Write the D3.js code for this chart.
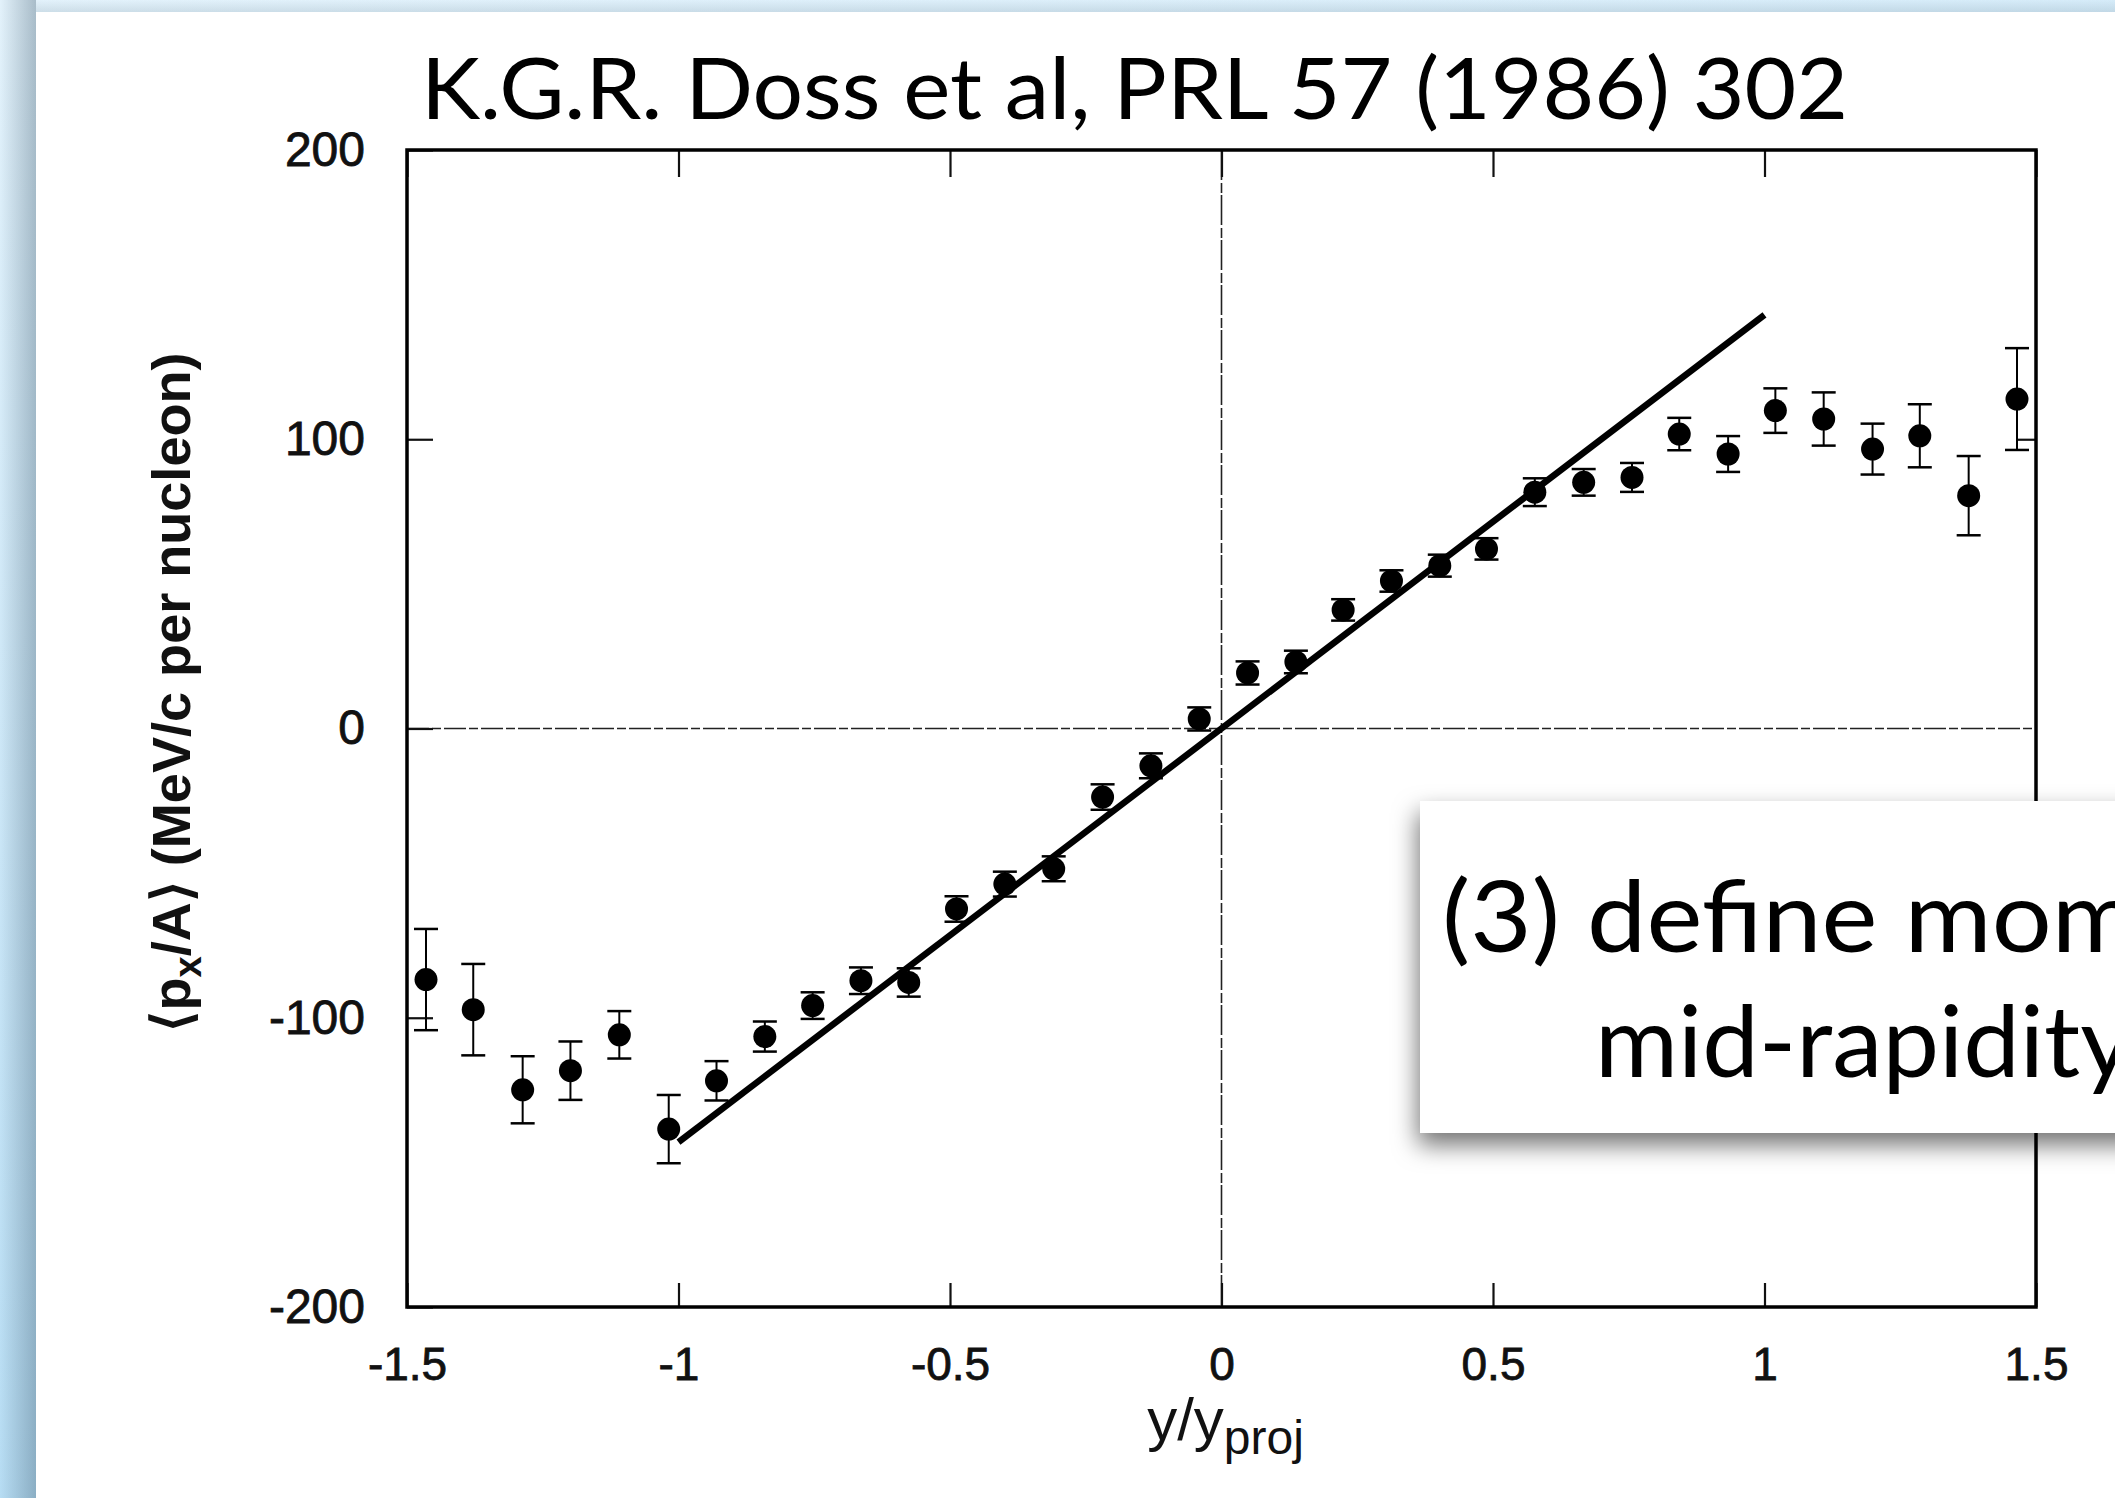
<!DOCTYPE html>
<html>
<head>
<meta charset="utf-8">
<script src="https://cdn.jsdelivr.net/npm/d3@7"></script>
<style>
  html, body { margin: 0; padding: 0; overflow: hidden; background: #fff; }
</style>
</head>
<body>
<script>
// ---------------- data ----------------
const rapidity = [-1.465, -1.378, -1.287, -1.199, -1.109, -1.018, -0.930, -0.841, -0.753, -0.664,
                  -0.576, -0.488, -0.399, -0.309, -0.219, -0.130, -0.041, 0.048, 0.137, 0.224,
                  0.313, 0.402, 0.488, 0.577, 0.667, 0.756, 0.843, 0.933, 1.020, 1.109,
                  1.199, 1.286, 1.376, 1.465];
const pxPerA = [-86.8, -97.2, -124.9, -118.3, -105.9, -138.5, -121.8, -106.5, -95.8, -87.2,
                -87.8, -62.4, -53.8, -48.5, -23.7, -12.9, 3.3, 19.2, 23.0, 41.0,
                51.0, 56.3, 62.1, 81.7, 85.1, 86.8, 101.8, 94.9, 109.9, 107.0,
                96.6, 101.2, 80.5, 113.9];
const pxErr = [17.5, 15.8, 11.6, 10.1, 8.2, 11.8, 6.8, 5.2, 4.6, 4.6,
               4.9, 4.4, 4.3, 4.3, 4.4, 4.3, 4.0, 4.0, 3.9, 3.7,
               3.7, 3.8, 3.7, 4.8, 4.6, 5.0, 5.6, 6.2, 7.7, 9.2,
               8.8, 10.9, 13.7, 17.6];
const fitX = [-1.0, 1.0];
const fitY = [-143, 143];
const xTicks = [-1.5, -1, -0.5, 0, 0.5, 1, 1.5];
const xTickLabels = ["-1.5", "-1", "-0.5", "0", "0.5", "1", "1.5"];
const yTicks = [-200, -100, 0, 100, 200];
const yTickLabels = ["-200", "-100", "0", "100", "200"];
const titleText = "K.G.R. Doss et al, PRL 57 (1986) 302";
const boxLines = ["(3) define momentum at", "mid-rapidity"];

// ---------------- layout ----------------
const W = 2115, H = 1498;
const L = 407, R = 2036, T = 150, B = 1307;

const svg = d3.select("body").append("svg").attr("width", W).attr("height", H);
const defs = svg.append("defs");

const bg = defs.append("linearGradient").attr("id", "bgGrad").attr("x1", 0).attr("y1", 0).attr("x2", 0.3).attr("y2", 1);
bg.append("stop").attr("offset", "0%").attr("stop-color", "#e3f2fb");
bg.append("stop").attr("offset", "100%").attr("stop-color", "#b3dbf3");

const ls = defs.append("linearGradient").attr("id", "leftShadow").attr("x1", 0).attr("y1", 0).attr("x2", 1).attr("y2", 0);
ls.append("stop").attr("offset", "0%").attr("stop-color", "#2d4a5e").attr("stop-opacity", 0);
ls.append("stop").attr("offset", "100%").attr("stop-color", "#2d4a5e").attr("stop-opacity", 0.32);

const ts = defs.append("linearGradient").attr("id", "topShadow").attr("x1", 0).attr("y1", 0).attr("x2", 0).attr("y2", 1);
ts.append("stop").attr("offset", "0%").attr("stop-color", "#2d4a5e").attr("stop-opacity", 0);
ts.append("stop").attr("offset", "100%").attr("stop-color", "#2d4a5e").attr("stop-opacity", 0.12);

const f = defs.append("filter").attr("id", "boxShadow").attr("x", "-10%").attr("y", "-20%").attr("width", "130%").attr("height", "160%");
f.append("feDropShadow").attr("dx", -2).attr("dy", 12).attr("stdDeviation", 12)
  .attr("flood-color", "#000").attr("flood-opacity", 0.55);

// background slide
svg.append("rect").attr("width", W).attr("height", H).attr("fill", "url(#bgGrad)");
svg.append("rect").attr("x", 0).attr("y", 0).attr("width", 36).attr("height", H).attr("fill", "url(#leftShadow)");
svg.append("rect").attr("x", 36).attr("y", 0).attr("width", W - 36).attr("height", 12).attr("fill", "url(#topShadow)");
svg.append("rect").attr("x", 36).attr("y", 12).attr("width", W - 36).attr("height", H - 12).attr("fill", "#ffffff");

// scales
const x = d3.scaleLinear().domain([-1.5, 1.5]).range([L, R]);
const y = d3.scaleLinear().domain([-200, 200]).range([B, T]);

const tickFont = "'Liberation Sans', Arial, Helvetica, sans-serif";

// zero lines
svg.append("line").attr("x1", L).attr("x2", R).attr("y1", y(0)).attr("y2", y(0))
  .attr("stroke", "#222").attr("stroke-width", 1.6).attr("stroke-dasharray", "22 3 9 3");
svg.append("line").attr("x1", x(0)).attr("x2", x(0)).attr("y1", T).attr("y2", B)
  .attr("stroke", "#222").attr("stroke-width", 1.6).attr("stroke-dasharray", "30 3 10 2");

// axes
function styleAxis(g, size) {
  g.select(".domain").remove();
  g.attr("font-family", tickFont).attr("font-size", size);
  g.selectAll(".tick line").attr("stroke", "#111").attr("stroke-width", 2.2);
  g.selectAll(".tick text").attr("fill", "#111").attr("stroke", "#111").attr("stroke-width", 0.8);
}
const gB = svg.append("g").attr("transform", `translate(0,${B})`)
  .call(d3.axisBottom(x).tickValues(xTicks).tickFormat((d, i) => xTickLabels[i])
    .tickSizeInner(-24).tickSizeOuter(0).tickPadding(40));
styleAxis(gB, 46);
const gT = svg.append("g").attr("transform", `translate(0,${T})`)
  .call(d3.axisTop(x).tickValues(xTicks).tickFormat("").tickSizeInner(-27).tickSizeOuter(0));
styleAxis(gT, 42);
const gL = svg.append("g").attr("transform", `translate(${L},0)`)
  .call(d3.axisLeft(y).tickValues(yTicks).tickFormat((d, i) => yTickLabels[i])
    .tickSizeInner(-26).tickSizeOuter(0).tickPadding(42));
styleAxis(gL, 48);
const gR = svg.append("g").attr("transform", `translate(${R},0)`)
  .call(d3.axisRight(y).tickValues([100, -100]).tickFormat("").tickSizeInner(-18).tickSizeOuter(0));
styleAxis(gR, 42);

// frame
svg.append("rect").attr("x", L).attr("y", T).attr("width", R - L).attr("height", B - T)
  .attr("fill", "none").attr("stroke", "#000").attr("stroke-width", 3.5);

// fit line
const fitPts = fitX.map((v, i) => [v, fitY[i]]);
svg.append("path").datum(fitPts)
  .attr("d", d3.line().x(d => x(d[0])).y(d => y(d[1])))
  .attr("stroke", "#000").attr("stroke-width", 6.5).attr("fill", "none");

// data
const pts = rapidity.map((v, i) => ({ x: v, y: pxPerA[i], e: pxErr[i] }));
const gp = svg.append("g");
const capW = 12;
gp.selectAll(".eb").data(pts).join("line")
  .attr("x1", d => x(d.x)).attr("x2", d => x(d.x))
  .attr("y1", d => y(d.y - d.e)).attr("y2", d => y(d.y + d.e))
  .attr("stroke", "#000").attr("stroke-width", 2);
gp.selectAll(".capT").data(pts).join("line")
  .attr("x1", d => x(d.x) - capW).attr("x2", d => x(d.x) + capW)
  .attr("y1", d => y(d.y + d.e)).attr("y2", d => y(d.y + d.e))
  .attr("stroke", "#000").attr("stroke-width", 2.5);
gp.selectAll(".capB").data(pts).join("line")
  .attr("x1", d => x(d.x) - capW).attr("x2", d => x(d.x) + capW)
  .attr("y1", d => y(d.y - d.e)).attr("y2", d => y(d.y - d.e))
  .attr("stroke", "#000").attr("stroke-width", 2.5);
gp.selectAll("circle").data(pts).join("circle")
  .attr("cx", d => x(d.x)).attr("cy", d => y(d.y)).attr("r", 11.5).attr("fill", "#000");

// axis titles
const yt = svg.append("text")
  .attr("transform", `translate(190,692) rotate(-90)`)
  .attr("text-anchor", "middle").attr("font-family", tickFont).attr("font-weight", "bold")
  .attr("font-size", 54).attr("fill", "#111")
  .attr("textLength", 679).attr("lengthAdjust", "spacingAndGlyphs");
yt.append("tspan").text("\u27E8p");
yt.append("tspan").attr("font-size", 38).attr("dy", 11).text("x");
yt.append("tspan").attr("dy", -11).text("/A\u27E9 (MeV/c per nucleon)");

const xt = svg.append("text")
  .attr("x", x(0) + 4).attr("y", 1440).attr("text-anchor", "middle")
  .attr("font-family", tickFont).attr("font-size", 60).attr("fill", "#111");
xt.append("tspan").text("y/y");
xt.append("tspan").attr("font-size", 48).attr("dy", 14).text("proj");

// title
svg.append("text").attr("x", 421).attr("y", 119)
  .attr("font-family", "Lato, 'Open Sans', sans-serif").attr("font-size", 86).attr("fill", "#000")
  .attr("textLength", 1427).attr("lengthAdjust", "spacingAndGlyphs")
  .text(titleText);

// callout box
const gbox = svg.append("g").attr("filter", "url(#boxShadow)");
gbox.append("rect").attr("x", 1420).attr("y", 801).attr("width", 900).attr("height", 332).attr("fill", "#fff");
svg.append("text").attr("transform", "translate(1442,952) scale(1.07,1)")
  .attr("font-family", "Lato, 'Open Sans', sans-serif").attr("font-size", 99).attr("fill", "#000")
  .text(boxLines[0]);
svg.append("text").attr("transform", "translate(1595,1077) scale(1.02,1)")
  .attr("font-family", "Lato, 'Open Sans', sans-serif").attr("font-size", 99).attr("fill", "#000")
  .text(boxLines[1]);
</script>
</body>
</html>
